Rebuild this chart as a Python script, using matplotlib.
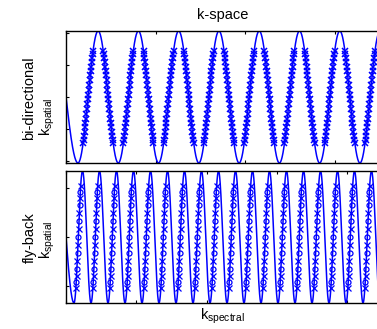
import numpy as np
import matplotlib
matplotlib.use("Agg")
import matplotlib.pyplot as plt

plt.rcParams['font.family'] = ['Liberation Sans', 'DejaVu Sans']
plt.rcParams['mathtext.fontset'] = 'custom'
plt.rcParams['mathtext.rm'] = 'Liberation Sans'
plt.rcParams['mathtext.it'] = 'Liberation Sans:italic'

# trajectory parameters (x in tick units, y in tick units)
# [period, time of first minimum, amplitude, visible x range]
bi_wave = [0.450, 0.134, 1.035, 3.497]
fb_wave = [0.2418, 0.114, 1.35, 4.452]
# sampled window as a fraction of the amplitude, samples per readout edge
bi_samples = [0.70, 22]
fb_samples = [0.77, 15]

bi_xticks = [0, 1, 2, 3]
bi_yticks = [-1, -0.5, 0, 0.5, 1]
fb_xticks = [0, 1, 2, 3, 4]
fb_yticks = [-1, 0, 1]

BLUE = (0, 0, 1)


def traj(t, wave):
    T, t0, A, _ = wave
    k = -A * np.cos(2 * np.pi * (t - t0) / T)
    pre = t < t0
    k[pre] = -A * np.sin(0.5 * np.pi * t[pre] / t0)
    return k


def edge_times(wave, frac, n, rising=True):
    T, t0, A, tmax = wave
    half = np.arcsin(frac) / (2 * np.pi) * T
    times = []
    c = t0 + (T / 4 if rising else 3 * T / 4)
    while c - half < tmax:
        times.append(np.linspace(c - half, c + half, n))
        c += T
    return np.array(times)


W, H = 377, 329
fig = plt.figure(figsize=(W / 100, H / 100), dpi=100)
ax1 = fig.add_axes([66 / W, 1 - 163 / H, 313 / W, 132 / H])
ax2 = fig.add_axes([66 / W, 1 - 303 / H, 313 / W, 132 / H])

# bi-directional
t = np.linspace(0, bi_wave[3], 3000)
ax1.plot(t, traj(t, bi_wave), color=BLUE, lw=1.1)
for rising in (True, False):
    ts = edge_times(bi_wave, bi_samples[0], bi_samples[1], rising).ravel()
    ax1.plot(ts, traj(ts, bi_wave), 'x', color=BLUE, ms=4.5, mew=1.1)
ax1.set_xlim(0, bi_wave[3])
ax1.set_ylim(-bi_wave[2], bi_wave[2])
ax1.set_xticks(bi_xticks)
ax1.set_yticks(bi_yticks)

# fly-back
t = np.linspace(0, fb_wave[3], 4000)
ax2.plot(t, traj(t, fb_wave), color=BLUE, lw=1.1)
ts = edge_times(fb_wave, fb_samples[0], fb_samples[1], True)
ax2.plot(ts[:, ::2].ravel(), traj(ts[:, ::2].ravel(), fb_wave), 'x',
         color=BLUE, ms=4, mew=0.9)
ax2.plot(ts[:, 1::2].ravel(), traj(ts[:, 1::2].ravel(), fb_wave), 'o',
         color=BLUE, ms=3.6, mew=0.9, mfc='none')
ax2.set_xlim(0, fb_wave[3])
ax2.set_ylim(-fb_wave[2], fb_wave[2])
ax2.set_xticks(fb_xticks)
ax2.set_yticks(fb_yticks)

for ax in (ax1, ax2):
    ax.tick_params(direction='in', length=2.5, width=0.8, top=True, right=False,
                   labelleft=False, labelbottom=False)
    for s in ax.spines.values():
        s.set_linewidth(1.0)

ax1.set_title('k-space', fontsize=10.5, pad=8.5)


def label(x, y, s, rot=90):
    fig.text(x / W, 1 - y / H, s, rotation=rot, rotation_mode='anchor',
             ha='center', va='baseline', fontsize=10.5)


label(33, 98, 'bi-directional')
label(51, 117, r'k$_{\mathrm{spatial}}$')
label(34, 237.5, 'fly-back')
label(51, 240, r'k$_{\mathrm{spatial}}$')
label(222, 320, r'k$_{\mathrm{spectral}}$', rot=0)

fig.savefig('out.png', dpi=100)
